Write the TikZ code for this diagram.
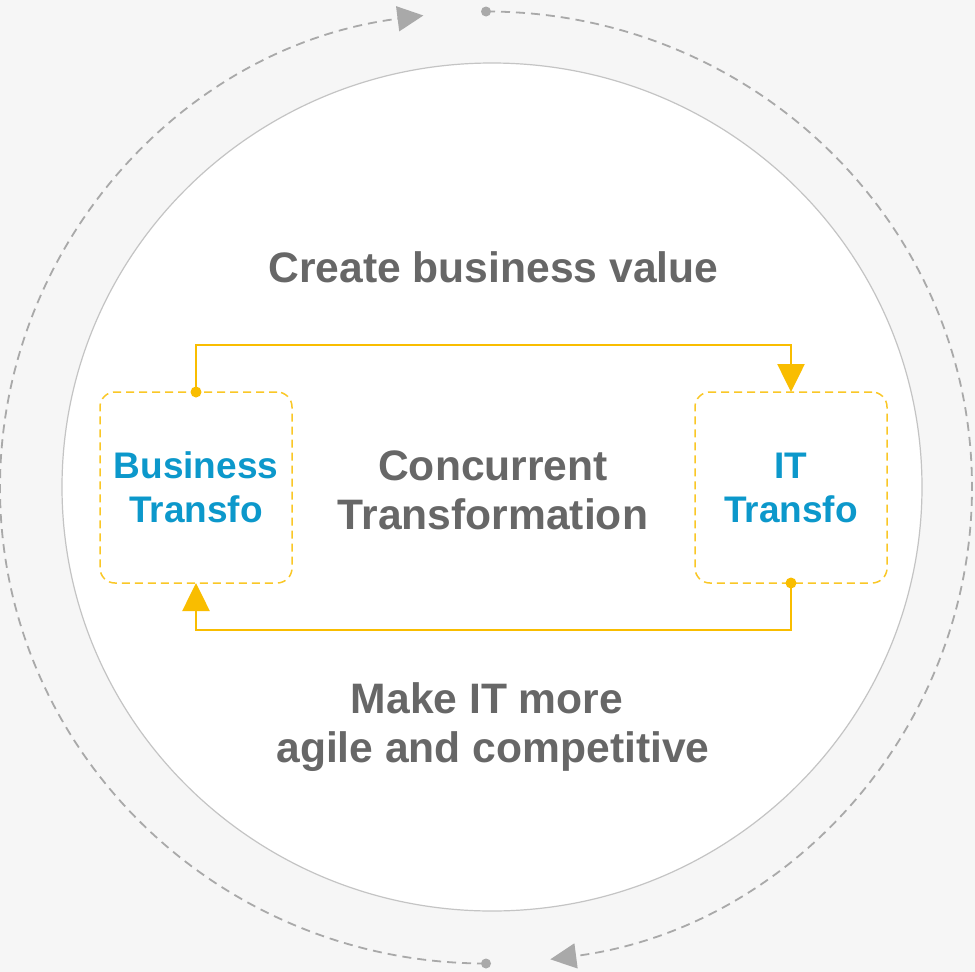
\documentclass[tikz,border=0pt]{standalone}
\usepackage{fontspec}
\setmainfont{Liberation Sans}
\usetikzlibrary{arrows.meta,calc}
\definecolor{bgc}{HTML}{F6F6F6}
\definecolor{ringc}{HTML}{C4C4C4}
\definecolor{dashc}{HTML}{A9A9A9}
\definecolor{goldc}{HTML}{F9BD00}
\definecolor{txtc}{HTML}{676767}
\definecolor{bluec}{HTML}{0C98CB}
\tikzset{
  graytext/.style={text=txtc, font=\bfseries\fontsize{42.6}{49}\selectfont, anchor=base, inner sep=0pt},
  tbox/.style={draw=goldc!85, line width=1.5pt, dash pattern=on 8pt off 5pt, rounded corners=15pt,
    minimum width=192pt, minimum height=191pt, outer sep=0pt, inner sep=0pt, align=center,
    text=bluec, font=\bfseries\fontsize{37}{44}\selectfont},
  conn/.style={draw=goldc, line width=2.6pt, -{Triangle[length=28pt,width=27pt]}},
  orbit/.style={draw=dashc, line width=1.8pt, dash pattern=on 9pt off 6pt, -{Triangle[length=26pt,width=25pt]}},
}
\begin{document}
\begin{tikzpicture}[x=1pt,y=-1pt]
\fill[bgc] (0,0) rectangle (975,972);
\useasboundingbox (0,0) rectangle (975,972);
% inner circle
\filldraw[fill=white, draw=ringc, line width=1.2pt] (492,487) ellipse [x radius=430, y radius=424];
% outer orbit
\coordinate (otop) at (486,11.5);
\coordinate (obot) at (486,963.5);
\draw[orbit] (otop) arc[start angle=-90, end angle=82.4, x radius=486, y radius=476];
\draw[orbit] (obot) arc[start angle=90, end angle=262.6, x radius=486, y radius=476];
\fill[dashc] (otop) circle (5);
\fill[dashc] (obot) circle (5);
% texts
\node[graytext] (cbv) at (493.5,282) {Create business value};
\node[graytext] (ct1) at (493,480) {Concurrent};
\node[graytext] (ct2) at (493,529) {Transformation};
\node[graytext] (mk1) at (487,713) {Make IT more};
\node[graytext] (mk2) at (493,762) {agile and competitive};
% boxes
\node[tbox] (bt) at (196,487.5) {Business\\Transfo};
\node[tbox] (it) at (791,487.5) {IT\\Transfo};
% connectors
\draw[conn] (bt.north) -- ++(0,-47) -| (it.north);
\draw[conn] (it.south) -- ++(0,47) -| (bt.south);
\fill[goldc] (bt.north) circle (5.5);
\fill[goldc] (it.south) circle (5.5);
\end{tikzpicture}
\end{document}
